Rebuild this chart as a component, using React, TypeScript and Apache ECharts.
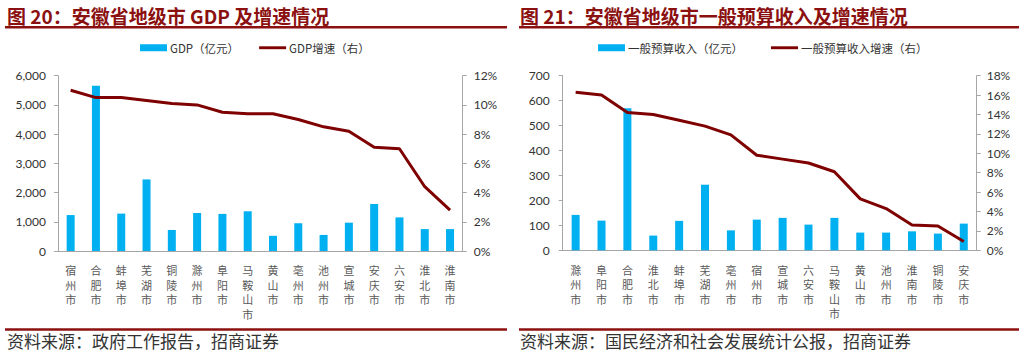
import React, { useEffect, useRef } from "react";
import * as echarts from "echarts";

// Chart 20: GDP by city
const gdpCities = ["宿州市", "合肥市", "蚌埠市", "芜湖市", "铜陵市", "滁州市", "阜阳市", "马鞍山市", "黄山市", "亳州市", "池州市", "宣城市", "安庆市", "六安市", "淮北市", "淮南市"];
const gdpValues = [1230, 5660, 1280, 2450, 720, 1300, 1270, 1360, 520, 950, 550, 970, 1610, 1150, 750, 750];
const gdpGrowth = [11.0, 10.5, 10.5, 10.3, 10.1, 10.0, 9.5, 9.4, 9.4, 9.0, 8.5, 8.2, 7.1, 7.0, 4.4, 2.8];

// Chart 21: general budget revenue by city
const budgetCities = ["滁州市", "阜阳市", "合肥市", "淮北市", "蚌埠市", "芜湖市", "亳州市", "宿州市", "宣城市", "六安市", "马鞍山市", "黄山市", "池州市", "淮南市", "铜陵市", "安庆市"];
const budgetValues = [142, 119, 570, 59, 118, 263, 80, 123, 130, 103, 130, 71, 71, 76, 67, 107];
const budgetGrowth = [16.3, 16.0, 14.2, 14.0, 13.4, 12.8, 11.9, 9.8, 9.4, 9.0, 8.1, 5.3, 4.3, 2.6, 2.5, 0.9];

const leftTitle = "图 20：安徽省地级市 GDP 及增速情况";
const rightTitle = "图 21：安徽省地级市一般预算收入及增速情况";
const leftSource = "资料来源：政府工作报告，招商证券";
const rightSource = "资料来源：国民经济和社会发展统计公报，招商证券";
const legendNames = ["GDP（亿元）", "GDP增速（右）", "一般预算收入（亿元）", "一般预算收入增速（右）"];

const BLUE = "#00B0F0";
const RED = "#7F0000";
const TITLE_RED = "#8B1010";
const AXIS = "#A6A6A6";
const CJK = "'Noto Sans CJK SC', sans-serif";
const NUM = "Lato, 'Noto Sans', sans-serif";
const LINE_ICON = "path://M0,0 L28,0 L28,3 L0,3 Z";

export default function App() {
  const ref = useRef<HTMLDivElement>(null);

  useEffect(() => {
    document.body.style.margin = "0";
    const chart = echarts.init(ref.current!, null, { renderer: "svg" });

    const vertical = (s: string) => s.split("").join("\n");

    const xAxisCommon = {
      type: "category" as const,
      axisLine: { lineStyle: { color: AXIS, width: 1 } },
      axisTick: { show: false },
      axisLabel: {
        interval: 0,
        formatter: vertical,
        color: "#595959",
        fontSize: 11,
        lineHeight: 14.5,
        fontFamily: CJK,
        margin: 12,
        verticalAlign: "top" as const,
      },
    };

    const yLeft = (gridIndex: number, max: number, interval: number, fmt: (v: number) => string, margin: number) => ({
      type: "value" as const,
      gridIndex,
      min: 0,
      max,
      interval,
      position: "left" as const,
      splitLine: { show: false },
      axisLine: { show: true, lineStyle: { color: AXIS } },
      axisTick: { show: true, length: 4, lineStyle: { color: AXIS } },
      axisLabel: { color: "#333", fontSize: 12, fontFamily: NUM, formatter: fmt, margin },
    });
    const yRight = (gridIndex: number, max: number, interval: number, margin: number) => ({
      type: "value" as const,
      gridIndex,
      min: 0,
      max,
      interval,
      position: "right" as const,
      splitLine: { show: false },
      axisLine: { show: true, lineStyle: { color: AXIS } },
      axisTick: { show: true, length: 4, lineStyle: { color: AXIS } },
      axisLabel: { color: "#333", fontSize: 12, fontFamily: NUM, formatter: (v: number) => v + "%", margin },
    });

    const legendText = { fontSize: 11.5, color: "#333", fontFamily: CJK, padding: [0, 0, 0, -2] };

    const option: any = {
      animation: false,
      textStyle: { fontFamily: CJK },
      grid: [
        { left: 58, right: 1024 - 462.7, top: 75.7, bottom: 353 - 251, containLabel: false },
        { left: 562.7, right: 1024 - 976.7, top: 75.7, bottom: 353 - 250.3, containLabel: false },
      ],
      legend: [
        {
          left: 140,
          top: 42,
          padding: 0,
          itemWidth: 27,
          itemHeight: 7,
          itemGap: 20,
          data: [
            { name: legendNames[0], icon: "rect" },
            { name: legendNames[1], icon: LINE_ICON },
          ],
          textStyle: legendText,
        },
        {
          left: 598,
          top: 42,
          padding: 0,
          itemWidth: 27,
          itemHeight: 7,
          itemGap: 28,
          data: [
            { name: legendNames[2], icon: "rect" },
            { name: legendNames[3], icon: LINE_ICON },
          ],
          textStyle: legendText,
        },
      ],
      xAxis: [
        { ...xAxisCommon, gridIndex: 0, data: gdpCities },
        { ...xAxisCommon, gridIndex: 1, data: budgetCities },
      ],
      yAxis: [
        yLeft(0, 6000, 1000, (v: number) => v.toLocaleString("en-US"), 12),
        yRight(0, 12, 2, 11),
        yLeft(1, 700, 100, (v: number) => String(v), 13),
        yRight(1, 18, 2, 10),
      ],
      series: [
        {
          name: legendNames[0],
          type: "bar",
          xAxisIndex: 0,
          yAxisIndex: 0,
          data: gdpValues,
          barWidth: 8,
          itemStyle: { color: BLUE },
        },
        {
          name: legendNames[1],
          type: "line",
          xAxisIndex: 0,
          yAxisIndex: 1,
          data: gdpGrowth,
          symbol: "none",
          lineStyle: { color: RED, width: 3 },
          itemStyle: { color: RED },
          z: 5,
        },
        {
          name: legendNames[2],
          type: "bar",
          xAxisIndex: 1,
          yAxisIndex: 2,
          data: budgetValues,
          barWidth: 8,
          itemStyle: { color: BLUE },
        },
        {
          name: legendNames[3],
          type: "line",
          xAxisIndex: 1,
          yAxisIndex: 3,
          data: budgetGrowth,
          symbol: "none",
          lineStyle: { color: RED, width: 3 },
          itemStyle: { color: RED },
          z: 5,
        },
      ],
      graphic: [
        {
          type: "text",
          x: 7,
          y: 15,
          style: {
            text: leftTitle,
            fontSize: 19,
            fontWeight: "bold",
            fill: TITLE_RED,
            fontFamily: CJK,
            verticalAlign: "middle",
          },
        },
        {
          type: "text",
          x: 520,
          y: 15,
          style: {
            text: rightTitle,
            fontSize: 19,
            fontWeight: "bold",
            fill: TITLE_RED,
            fontFamily: CJK,
            verticalAlign: "middle",
          },
        },
        { type: "rect", shape: { x: 5, y: 26, width: 502, height: 2.5 }, style: { fill: TITLE_RED } },
        { type: "rect", shape: { x: 519, y: 26, width: 500, height: 2.5 }, style: { fill: TITLE_RED } },
        { type: "rect", shape: { x: 5, y: 328.3, width: 502, height: 2.5 }, style: { fill: TITLE_RED } },
        { type: "rect", shape: { x: 519, y: 328.3, width: 500, height: 2.5 }, style: { fill: TITLE_RED } },
        {
          type: "text",
          left: 7,
          top: 332,
          style: { text: leftSource, fontSize: 17, fill: "#333", fontFamily: CJK },
        },
        {
          type: "text",
          left: 520,
          top: 332,
          style: { text: rightSource, fontSize: 17, fill: "#333", fontFamily: CJK },
        },
      ],
    };

    chart.setOption(option);
    return () => chart.dispose();
  }, []);

  return (
    <div
      ref={ref}
      style={{ position: "fixed", left: 0, top: 0, width: 1024, height: 353, background: "#fff" }}
    />
  );
}
